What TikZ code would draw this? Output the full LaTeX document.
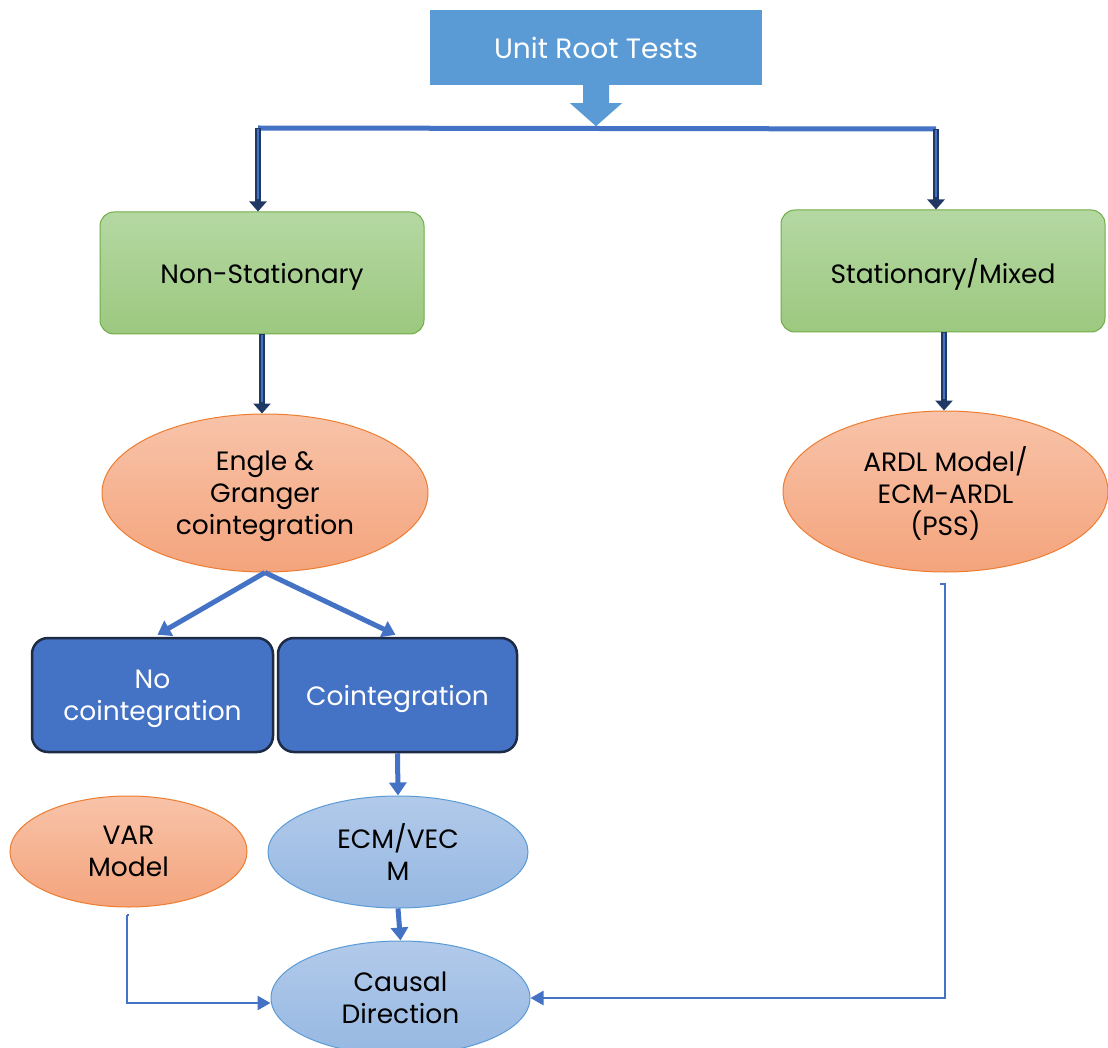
\documentclass[tikz,border=0pt]{standalone}
\usepackage{fontspec}
\setmainfont{Poppins}
\usetikzlibrary{shapes.geometric,arrows.meta,calc}
\definecolor{urtblue}{HTML}{5B9BD5}
\definecolor{lineblue}{HTML}{4472C4}
\definecolor{navy}{HTML}{1F3864}
\definecolor{gtop}{HTML}{B5D8A3}
\definecolor{gbot}{HTML}{9CC87F}
\definecolor{gborder}{HTML}{70AD47}
\definecolor{otop}{HTML}{F8C3A9}
\definecolor{obot}{HTML}{F4A47C}
\definecolor{oborder}{HTML}{ED7D31}
\definecolor{btop}{HTML}{B2CAEA}
\definecolor{bbot}{HTML}{96B8E2}
\definecolor{dkborder}{HTML}{1E2B45}
\tikzset{
  txt/.style={font=\fontsize{26.5}{32}\selectfont, align=center, inner sep=0pt, text depth=0pt},
  ml/.style={execute at begin node={\rule{0pt}{27pt}}},
  greenbox/.style={txt, draw=gborder, line width=1pt, rounded corners=14pt, top color=gtop, bottom color=gbot, minimum width=324pt, minimum height=122pt},
  orangeell/.style={txt, ml, ellipse, draw=oborder, line width=1pt, top color=otop, bottom color=obot},
  blueell/.style={txt, ml, ellipse, draw=urtblue, line width=1pt, top color=btop, bottom color=bbot},
  darkbox/.style={txt, text=white, draw=dkborder, line width=2.5pt, fill=lineblue, rounded corners=16pt, minimum height=114pt},
  navyarrow/.style={draw=navy, line width=6pt, -{Triangle[width=17pt,length=10pt]}},
  navyinner/.style={draw=lineblue, line width=2pt, shorten >=12pt, shorten <=1pt},
  thickarrow/.style={draw=lineblue, line width=5pt, -{Triangle[width=17pt,length=13pt]}},
  thinarrow/.style={draw=lineblue, line width=2.5pt, -{Triangle[width=14pt,length=13pt]}}
}
\begin{document}
\begin{tikzpicture}[x=1pt,y=-1pt]
\clip (0,0) rectangle (1108,1048);
\fill[white] (0,0) rectangle (1108,1048);

% nodes
\node[txt, font=\fontsize{28}{32}\selectfont, text=white, fill=urtblue, minimum width=332pt, minimum height=75pt] (urt) at (596,47.5) {Unit Root Tests};
\node[greenbox] (ns) at (262,273) {Non-Stationary};
\node[greenbox] (sm) at (943,271) {Stationary/Mixed};
\node[orangeell, minimum width=326pt, minimum height=158pt] (eg) at (265,493) {Engle \&\\Granger\\cointegration};
\node[orangeell, minimum width=325pt, minimum height=161pt] (ardl) at (945.5,491.5) {ARDL Model/\\ECM-ARDL\\(PSS)};
\node[darkbox, ml, minimum width=241pt] (noc) at (152.5,695) {No\\cointegration};
\node[darkbox, minimum width=239pt] (coi) at (397.5,695) {Cointegration};
\node[orangeell, minimum width=237pt, minimum height=111pt] (var) at (128.5,851.5) {VAR\\Model};
\node[blueell, minimum width=260pt, minimum height=112pt] (ecm) at (398,852) {ECM/VEC\\M};
\node[blueell, minimum width=259pt, minimum height=114pt] (cd) at (400.5,998) {Causal\\Direction};

% block arrow below Unit Root Tests
\coordinate (tip) at ($(urt.south)+(0,41)$);
\fill[urtblue] ($(urt.south)+(-13,0)$) -- ($(urt.south)+(-13,18)$) -- ($(urt.south)+(-26,18)$) -- (tip)
  -- ($(urt.south)+(26,18)$) -- ($(urt.south)+(13,18)$) -- ($(urt.south)+(13,0)$) -- cycle;

% horizontal distribution line
\coordinate (jl) at (258,128);
\coordinate (jr) at (936,129);
\draw[lineblue, line width=5pt] (jl) -- (jr);

% navy double arrows
\draw[navyarrow] (jl) -- (jl |- ns.north);
\draw[navyinner] (jl) -- (jl |- ns.north);
\draw[navyarrow] (jr) -- (jr |- sm.north);
\draw[navyinner] (jr) -- (jr |- sm.north);
\draw[navyarrow] (ns.south) -- (ns.south |- eg.north);
\draw[navyinner] (ns.south) -- (ns.south |- eg.north);
\coordinate (sms) at ($(sm.south)+(1,0)$);
\draw[navyarrow] (sms) -- (sms |- ardl.north);
\draw[navyinner] (sms) -- (sms |- ardl.north);

% blue arrows
\draw[thickarrow] (eg.south) -- ($(noc.north)+(5,-2)$);
\draw[thickarrow] (eg.south) -- ($(coi.north)+(-2,-2)$);
\draw[thickarrow] (coi.south) -- (ecm.north);
\draw[thickarrow] (ecm.south) -- (cd.north);

% side connectors
\coordinate (v0) at (127,915);
\draw[thinarrow] (v0) -- (127,1003) -- ($(cd.west)+(0,5)$);
\draw[lineblue, line width=2.5pt] (v0) -- ++(2,0);
\coordinate (a0) at (940,584);
\draw[thinarrow] (a0) -- (945,584) -- (945,998) -- (cd.east);
\end{tikzpicture}
\end{document}
